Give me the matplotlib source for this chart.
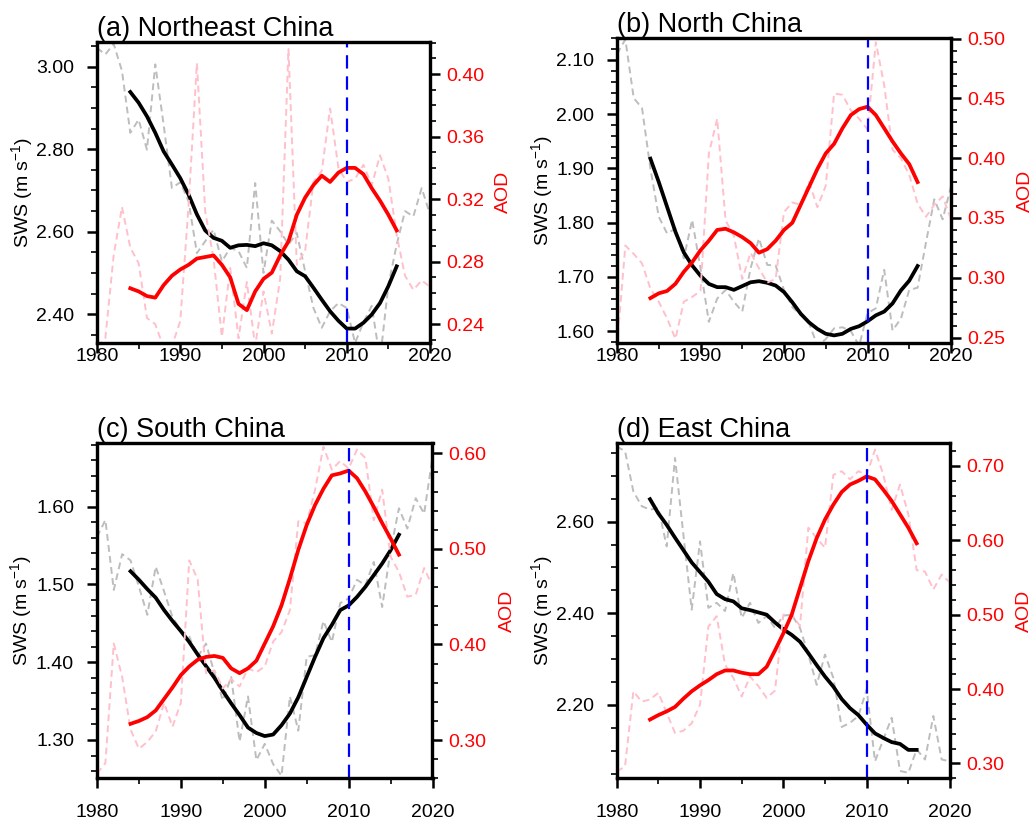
import numpy as np
import matplotlib
matplotlib.use("Agg")
import matplotlib.pyplot as plt
from matplotlib.ticker import MultipleLocator, FormatStrFormatter

plt.rcParams['font.family'] = ['Liberation Sans', 'DejaVu Sans']
plt.rcParams['mathtext.default'] = 'regular'

years_raw = np.arange(1980, 2021)
years_smooth = np.arange(1984, 2017)

# (a) Northeast China
ne_sws_raw = [3.046, 3.030, 3.056, 2.990, 2.840, 2.872, 2.799, 3.006, 2.860, 2.706,
              2.720, 2.674, 2.548, 2.577, 2.605, 2.528, 2.561, 2.553, 2.512, 2.718,
              2.500, 2.627, 2.601, 2.569, 2.597, 2.504, 2.415, 2.367, 2.407, 2.427,
              2.415, 2.330, 2.380, 2.420, 2.290, 2.470, 2.569, 2.650, 2.637, 2.706, 2.642]
ne_sws_smooth = [2.939, 2.913, 2.880, 2.840, 2.795, 2.763, 2.730, 2.690, 2.642, 2.603,
                 2.585, 2.578, 2.561, 2.567, 2.568, 2.565, 2.572, 2.567, 2.553, 2.532,
                 2.504, 2.492, 2.464, 2.435, 2.407, 2.384, 2.365, 2.365, 2.379, 2.399,
                 2.427, 2.468, 2.516]
ne_aod_raw = [0.226, 0.231, 0.284, 0.315, 0.289, 0.279, 0.244, 0.240, 0.225, 0.226,
              0.242, 0.316, 0.407, 0.312, 0.282, 0.232, 0.276, 0.231, 0.267, 0.226,
              0.261, 0.234, 0.269, 0.416, 0.278, 0.287, 0.331, 0.338, 0.378, 0.340,
              0.331, 0.333, 0.342, 0.329, 0.348, 0.333, 0.297, 0.271, 0.262, 0.268, 0.264]
ne_aod_smooth = [0.263, 0.261, 0.258, 0.257, 0.265, 0.271, 0.275, 0.278, 0.282, 0.283,
                 0.284, 0.278, 0.270, 0.253, 0.249, 0.261, 0.269, 0.273, 0.284, 0.293,
                 0.310, 0.321, 0.329, 0.335, 0.331, 0.337, 0.340, 0.340, 0.336, 0.327,
                 0.319, 0.310, 0.300]

# (b) North China
nc_sws_raw = [2.111, 2.138, 2.030, 2.011, 1.900, 1.811, 1.780, 1.789, 1.734, 1.805,
              1.716, 1.617, 1.660, 1.676, 1.654, 1.636, 1.716, 1.771, 1.722, 1.721,
              1.676, 1.644, 1.630, 1.615, 1.573, 1.585, 1.605, 1.607, 1.600, 1.573,
              1.633, 1.642, 1.713, 1.601, 1.623, 1.676, 1.680, 1.763, 1.843, 1.806, 1.867]
nc_sws_smooth = [1.918, 1.875, 1.829, 1.783, 1.745, 1.721, 1.702, 1.687, 1.681, 1.681,
                 1.676, 1.683, 1.690, 1.692, 1.689, 1.684, 1.672, 1.653, 1.632, 1.616,
                 1.604, 1.595, 1.592, 1.595, 1.604, 1.609, 1.618, 1.629, 1.636, 1.651,
                 1.675, 1.693, 1.720]
nc_aod_raw = [0.243, 0.327, 0.320, 0.312, 0.291, 0.280, 0.266, 0.249, 0.280, 0.284,
              0.289, 0.404, 0.433, 0.348, 0.335, 0.299, 0.321, 0.308, 0.296, 0.299,
              0.355, 0.363, 0.361, 0.380, 0.359, 0.377, 0.454, 0.453, 0.440, 0.433,
              0.424, 0.497, 0.461, 0.407, 0.400, 0.386, 0.362, 0.351, 0.361, 0.368, 0.349]
nc_aod_smooth = [0.283, 0.287, 0.289, 0.295, 0.305, 0.313, 0.323, 0.331, 0.340, 0.341,
                 0.338, 0.334, 0.329, 0.321, 0.324, 0.331, 0.340, 0.346, 0.361, 0.376,
                 0.391, 0.404, 0.412, 0.425, 0.436, 0.441, 0.443, 0.436, 0.425, 0.414,
                 0.404, 0.395, 0.380]

# (c) South China
sc_sws_raw = [1.561, 1.583, 1.493, 1.539, 1.531, 1.497, 1.461, 1.523, 1.491, 1.458,
              1.441, 1.433, 1.407, 1.424, 1.386, 1.351, 1.381, 1.298, 1.356, 1.274,
              1.295, 1.269, 1.254, 1.356, 1.312, 1.407, 1.409, 1.453, 1.426, 1.476,
              1.482, 1.506, 1.499, 1.529, 1.471, 1.544, 1.598, 1.572, 1.611, 1.591, 1.664]
sc_sws_smooth = [1.517, 1.506, 1.494, 1.483, 1.467, 1.453, 1.440, 1.426, 1.410, 1.395,
                 1.380, 1.363, 1.347, 1.332, 1.316, 1.309, 1.305, 1.307, 1.319, 1.334,
                 1.355, 1.381, 1.407, 1.431, 1.448, 1.467, 1.473, 1.484, 1.497, 1.512,
                 1.527, 1.544, 1.564]
sc_aod_raw = [0.265, 0.276, 0.401, 0.366, 0.311, 0.291, 0.298, 0.309, 0.339, 0.314,
              0.339, 0.488, 0.468, 0.370, 0.373, 0.354, 0.364, 0.356, 0.375, 0.371,
              0.377, 0.403, 0.413, 0.436, 0.529, 0.527, 0.562, 0.607, 0.583, 0.592,
              0.584, 0.604, 0.595, 0.530, 0.562, 0.492, 0.476, 0.450, 0.452, 0.480, 0.461]
sc_aod_smooth = [0.317, 0.320, 0.324, 0.331, 0.343, 0.355, 0.368, 0.377, 0.384, 0.387,
                 0.388, 0.386, 0.375, 0.370, 0.375, 0.383, 0.401, 0.419, 0.441, 0.469,
                 0.499, 0.525, 0.546, 0.563, 0.577, 0.579, 0.582, 0.574, 0.560, 0.544,
                 0.527, 0.511, 0.494]

# (d) East China
ec_sws_raw = [2.764, 2.754, 2.666, 2.634, 2.626, 2.630, 2.546, 2.739, 2.572, 2.408,
              2.557, 2.412, 2.423, 2.405, 2.488, 2.390, 2.423, 2.379, 2.394, 2.368,
              2.395, 2.397, 2.368, 2.310, 2.244, 2.310, 2.259, 2.152, 2.161, 2.176,
              2.234, 2.077, 2.125, 2.172, 2.056, 2.052, 2.103, 2.081, 2.176, 2.081, 2.077]
ec_sws_smooth = [2.649, 2.618, 2.593, 2.565, 2.538, 2.511, 2.490, 2.469, 2.442, 2.431,
                 2.426, 2.411, 2.407, 2.402, 2.397, 2.380, 2.365, 2.353, 2.338, 2.313,
                 2.287, 2.262, 2.240, 2.213, 2.193, 2.178, 2.157, 2.138, 2.128, 2.119,
                 2.115, 2.102, 2.102]
ec_aod_raw = [0.289, 0.296, 0.397, 0.383, 0.386, 0.395, 0.368, 0.341, 0.344, 0.354,
              0.379, 0.484, 0.498, 0.433, 0.415, 0.390, 0.417, 0.404, 0.388, 0.398,
              0.500, 0.500, 0.485, 0.617, 0.603, 0.590, 0.688, 0.693, 0.682, 0.693,
              0.688, 0.722, 0.688, 0.641, 0.675, 0.635, 0.560, 0.558, 0.534, 0.554, 0.543]
ec_aod_smooth = [0.359, 0.365, 0.370, 0.376, 0.387, 0.397, 0.405, 0.412, 0.420, 0.425,
                 0.425, 0.422, 0.420, 0.420, 0.430, 0.452, 0.475, 0.500, 0.536, 0.572,
                 0.603, 0.628, 0.648, 0.665, 0.675, 0.680, 0.686, 0.682, 0.668, 0.653,
                 0.635, 0.617, 0.596]

W, H = 1033, 822
fig = plt.figure(figsize=(W / 100, H / 100), dpi=100)


def add_ax(x0, y0, x1, y1):
    return fig.add_axes([x0 / W, 1 - y1 / H, (x1 - x0) / W, (y1 - y0) / H])


def style_axis(ax, which):
    ax.tick_params(axis=which, which='major', direction='out', length=7.5, width=1.8,
                   labelsize=14)
    ax.tick_params(axis=which, which='minor', direction='out', length=4, width=1.2)


def panel(rect, title, sws_raw, sws_sm, aod_raw, aod_sm,
          lylim, lmaj, lmin, rylim, rmaj, rmin, xpad):
    ax = add_ax(*rect)
    ax2 = ax.twinx()
    ax.plot(years_raw, sws_raw, color='#bdbdbd', lw=1.4, dashes=(3.5, 2.2))
    ax.plot(years_smooth, sws_sm, color='black', lw=2.7)
    ax2.plot(years_raw, aod_raw, color='#ffc0cb', lw=1.4, dashes=(3.5, 2.2))
    ax2.plot(years_smooth, aod_sm, color='red', lw=2.7)
    ax2.axvline(2010, color='blue', lw=1.6, dashes=(6, 3.5))

    ax.set_xlim(1980, 2020)
    ax.set_ylim(*lylim)
    ax2.set_ylim(*rylim)
    ax.xaxis.set_major_locator(MultipleLocator(10))
    ax.xaxis.set_minor_locator(MultipleLocator(5))
    ax.yaxis.set_major_locator(MultipleLocator(lmaj))
    ax.yaxis.set_minor_locator(MultipleLocator(lmin))
    ax.yaxis.set_major_formatter(FormatStrFormatter('%.2f'))
    ax2.yaxis.set_major_locator(MultipleLocator(rmaj))
    ax2.yaxis.set_minor_locator(MultipleLocator(rmin))
    ax2.yaxis.set_major_formatter(FormatStrFormatter('%.2f'))

    style_axis(ax, 'y')
    style_axis(ax2, 'y')
    style_axis(ax, 'x')
    ax.tick_params(axis='x', pad=xpad)
    ax.tick_params(axis='y', pad=9)
    ax2.tick_params(axis='y', colors='black', labelcolor='red', pad=4)
    for a in (ax, ax2):
        for s in a.spines.values():
            s.set_linewidth(2.3)

    ax.set_title(title, loc='left', fontsize=19.5, pad=3)
    ax.text(-0.225, 0.5, 'SWS (m s$^{-1}$)', rotation=90, ha='center', va='center',
            fontsize=14, transform=ax.transAxes)
    ax2.text(1.222, 0.5, 'AOD', rotation=90, ha='center', va='center',
             fontsize=14, color='red', transform=ax2.transAxes)


panel((97, 41.7, 430, 343), '(a) Northeast China', ne_sws_raw, ne_sws_smooth,
      ne_aod_raw, ne_aod_smooth, (2.330, 3.061), 0.2, 0.05, (0.228, 0.4207), 0.04, 0.01, -4)
panel((617, 38.3, 951, 343), '(b) North China', nc_sws_raw, nc_sws_smooth,
      nc_aod_raw, nc_aod_smooth, (1.578, 2.140), 0.1, 0.02, (0.2455, 0.5002), 0.05, 0.01, -4)
panel((97, 443.3, 432.5, 778.3), '(c) South China', sc_sws_raw, sc_sws_smooth,
      sc_aod_raw, sc_aod_smooth, (1.2507, 1.6816), 0.1, 0.02, (0.26, 0.6105), 0.1, 0.02, 11)
panel((616.7, 443.3, 950, 778.3), '(d) East China', ec_sws_raw, ec_sws_smooth,
      ec_aod_raw, ec_aod_smooth, (2.04, 2.771), 0.2, 0.05, (0.28, 0.7305), 0.1, 0.02, 11)

fig.savefig('out.png', dpi=100)
